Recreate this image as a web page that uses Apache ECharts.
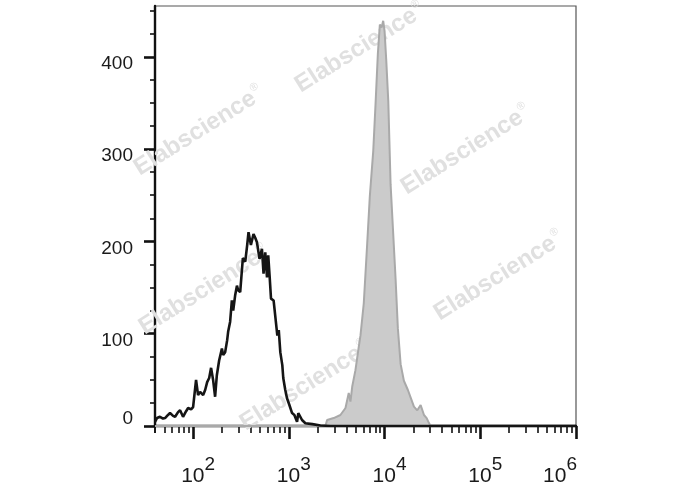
<!DOCTYPE html>
<html>
<head>
<meta charset="utf-8">
<script src="https://cdn.jsdelivr.net/npm/echarts@6/dist/echarts.min.js"></script>
<style>
html,body{margin:0;padding:0;background:#fff;}
#chart{width:688px;height:490px;}
</style>
</head>
<body>
<div id="chart"></div>
<script>
// log10 of fluorescence intensity (x) and event counts (y)
const blackLogX = [1.602,1.623,1.654,1.686,1.707,1.738,1.759,1.791,1.812,1.843,1.864,1.895,1.927,1.948,1.979,2.000,2.031,2.052,2.073,2.105,2.126,2.147,2.168,2.188,2.209,2.230,2.248,2.272,2.301,2.314,2.335,2.356,2.366,2.387,2.405,2.419,2.440,2.458,2.471,2.492,2.520,2.545,2.565,2.579,2.604,2.631,2.649,2.667,2.694,2.719,2.736,2.754,2.772,2.785,2.799,2.814,2.841,2.859,2.880,2.895,2.911,2.932,2.942,2.963,2.981,3.005,3.034,3.058,3.086,3.099,3.138,3.173,3.246,3.330,3.435,6.000];
const blackCount = [4.6,8.6,10,8,8.6,12,14,11,10,15,17,10,16,19.5,18,20.5,50,33.5,37,33.5,39,47.5,52,63,50,31.7,55,71,84,77,80,93,102,113,136,125,142,152,147,145,182,178,196,210,196,208,204,199,181,192,165,188,161,185,163,138,136,134,98,104,80,66,52,39,30,23,14,12,4.6,14,6.5,3,2,0.5,0,0];
const grayLogX = [1.602,3.382,3.400,3.469,3.539,3.592,3.626,3.644,3.662,3.696,3.731,3.749,3.783,3.819,3.846,3.882,3.906,3.930,3.951,3.969,3.986,4.000,4.018,4.039,4.063,4.087,4.115,4.139,4.168,4.202,4.244,4.272,4.307,4.342,4.377,4.412,4.440,4.464,4.482,6.000];
const grayCount = [0,0,6.5,8.6,11.9,19.5,35.7,26.5,42.5,60.5,85.9,98.4,133,198,248.6,298,349,403,435,431.6,439,428,396,352,262,215,160,106,67,49,39,31,21,17,22.7,11.9,8.6,3.2,0,0];

const xDecades = [2,3,4,5,6];
const yMajor = [0,100,200,300,400];
const yMinor = [25,50,75,125,150,175,225,250,275,325,350,375,425,450];
const watermarkText = 'Elabscience';

const xMin = Math.log10(40), xMax = 6;
const xMinor = [];
for (let d = 1; d <= 5; d++) {
  for (let m = 2; m <= 9; m++) {
    const v = Math.log10(m * Math.pow(10, d));
    if (v > xMin - 1e-9 && v < xMax) xMinor.push(v);
  }
}
xMinor.push(xMin);

const FONT = '"Liberation Sans", Arial, sans-serif';
const wmPos = [[199,131],[360,48],[466,150],[499,276],[204,290],[305,386]];

const chart = echarts.init(document.getElementById('chart'), null, {renderer:'canvas'});
chart.setOption({
  animation: false,
  backgroundColor: '#fff',
  grid: {left:155, right:112, top:6, bottom:64, show:true, borderColor:'#555', borderWidth:1.2, backgroundColor:'transparent'},
  graphic: wmPos.map(p => ({
    type:'text', x:p[0], y:p[1], rotation: 32*Math.PI/180, z:1, silent:true,
    style:{
      text:'{a|' + watermarkText + '}{r|®}',
      align:'center', verticalAlign:'middle',
      rich:{
        a:{fontSize:24, fontWeight:'bold', fontFamily:FONT, fill:'#e0e0e0'},
        r:{fontSize:11, fontFamily:FONT, fill:'#e0e0e0', padding:[0,0,16,1]}
      }
    }
  })),
  xAxis: [{
    type:'value', min:xMin, max:xMax, position:'bottom',
    axisLine:{show:true, lineStyle:{color:'#111', width:2.4}},
    axisTick:{show:true, customValues:xDecades, length:13, lineStyle:{color:'#111', width:2.6}},
    splitLine:{show:false},
    axisLabel:{
      customValues:xDecades, margin:29, color:'#1a1a1a',
      formatter: v => {
        const n = Math.round(v);
        if (n === 6) return '{b|10}{e|' + n + '}{q| }';
        return '{p| }{b|10}{e|' + n + '}';
      },
      rich:{
        p:{width:10, lineHeight:32, fontSize:10},
        q:{width:32, lineHeight:32, fontSize:10},
        b:{fontSize:21, lineHeight:20, verticalAlign:'bottom', fontFamily:FONT, color:'#1a1a1a'},
        e:{fontSize:19, lineHeight:18, verticalAlign:'top', fontFamily:FONT, color:'#1a1a1a'}
      }
    }
  },{
    type:'value', min:xMin, max:xMax, position:'bottom',
    axisLine:{show:false},
    axisTick:{show:true, customValues:xMinor, length:7, lineStyle:{color:'#111', width:1.6}},
    axisLabel:{show:false}, splitLine:{show:false}
  }],
  yAxis: [{
    type:'value', min:0, max:455, position:'left',
    axisLine:{show:true, lineStyle:{color:'#111', width:2.4}},
    axisTick:{show:true, customValues:yMajor, length:11, lineStyle:{color:'#111', width:2.6}},
    splitLine:{show:false},
    axisLabel:{
      customValues:yMajor, margin:22,
      formatter: v => v === 0 ? '{z|0}' : '{n|' + v + '}',
      rich:{
        n:{fontSize:19, fontFamily:FONT, color:'#1a1a1a', padding:[14,0,0,0]},
        z:{fontSize:19, fontFamily:FONT, color:'#1a1a1a', padding:[0,0,14,0]}
      }
    }
  },{
    type:'value', min:0, max:455, position:'left',
    axisLine:{show:false},
    axisTick:{show:true, customValues:yMinor, length:5, lineStyle:{color:'#111', width:1.6}},
    axisLabel:{show:false}, splitLine:{show:false}
  }],
  series: [{
    type:'line', name:'stained', xAxisIndex:0, yAxisIndex:0, z:2,
    data: grayLogX.map((x,i) => [x, grayCount[i]]),
    showSymbol:false, symbol:'none',
    lineStyle:{color:'#a9a9a9', width:2},
    areaStyle:{color:'#cbcbcb', opacity:1}
  },{
    type:'line', name:'control', xAxisIndex:0, yAxisIndex:0, z:3,
    data: blackLogX.map((x,i) => [x, blackCount[i]]),
    showSymbol:false, symbol:'none',
    lineStyle:{color:'#151515', width:2.6}
  }]
});
</script>
</body>
</html>
